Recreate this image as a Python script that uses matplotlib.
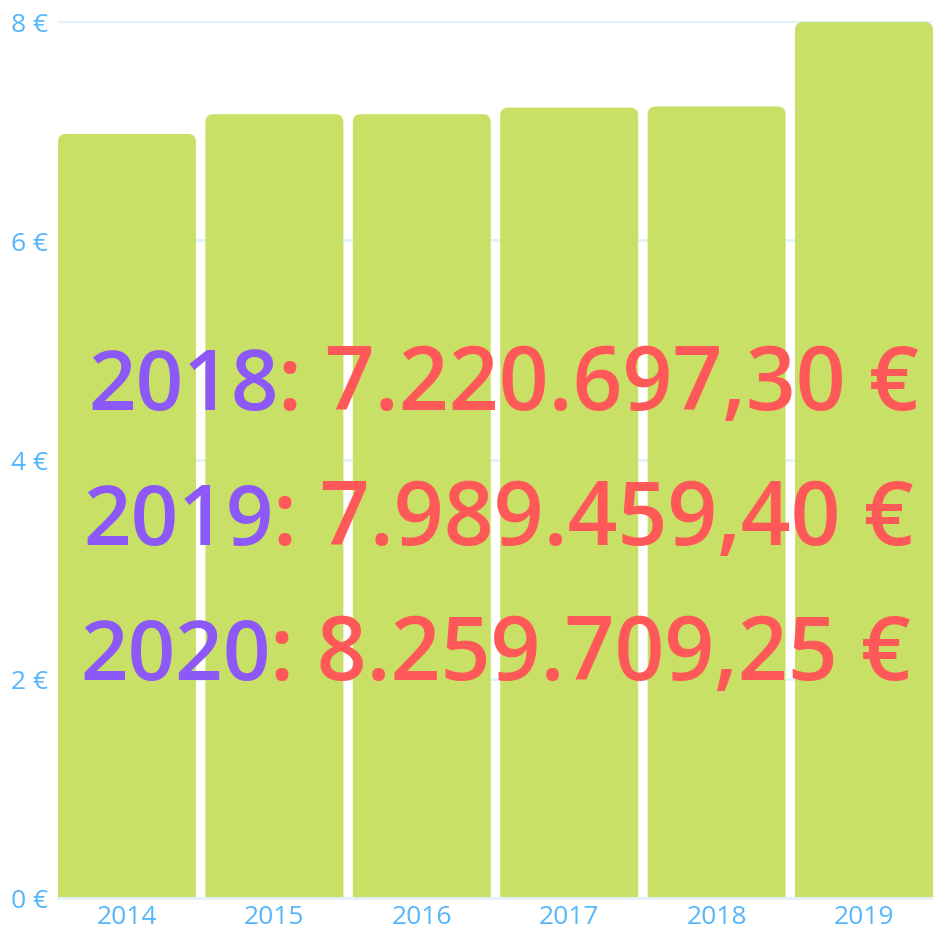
import matplotlib.pyplot as plt
from matplotlib.patches import FancyBboxPatch
from matplotlib.ticker import FuncFormatter

years = ['2014', '2015', '2016', '2017', '2018', '2019']
values = [6.97, 7.15, 7.15, 7.21, 7.22, 7.99]  # millions of euro

notes_year = ['2018', '2019', '2020']
notes_amount = [': 7.220.697,30 €', ': 7.989.459,40 €', ': 8.259.709,25 €']

BAR = '#c9e066'
TICK = '#55b6fb'
GRID = '#e2f1fc'
PURPLE = '#8c58f7'
RED = '#ff5858'

plt.rcParams['font.family'] = ['Open Sans', 'DejaVu Sans']

fig = plt.figure(figsize=(9.33, 9.28), dpi=100)
ax = fig.add_axes([58 / 933, 29 / 928, 875 / 933, 877 / 928])

ax.set_xlim(-0.468, len(years) - 1 + 0.468)
ax.set_ylim(0, 8)

# rounded top corners, bottom hidden below y=0
fig.canvas.draw()
bb = ax.get_window_extent()
x_per_px = (ax.get_xlim()[1] - ax.get_xlim()[0]) / bb.width
y_per_px = 8 / bb.height
r = 8 * x_per_px
aspect = y_per_px / x_per_px
width = 0.936
for i, v in enumerate(values):
    p = FancyBboxPatch((i - width / 2, -0.5), width, v + 0.5,
                       boxstyle=f'round,pad=0,rounding_size={r}',
                       mutation_aspect=aspect, fc=BAR, ec='none', zorder=2)
    ax.add_patch(p)

ax.set_yticks([0, 2, 4, 6, 8])
ax.yaxis.set_major_formatter(FuncFormatter(lambda v, _: f'{v:.0f} €'))
ax.set_xticks(range(len(years)))
ax.set_xticklabels(years)
ax.tick_params(axis='both', length=0, colors=TICK, labelsize=19)
ax.tick_params(axis='y', pad=7)
ax.tick_params(axis='x', pad=4)
ax.grid(axis='y', color=GRID, lw=2, zorder=0)
ax.set_axisbelow(True)
for s in ['top', 'right', 'left']:
    ax.spines[s].set_visible(False)
ax.spines['bottom'].set_color(GRID)
ax.spines['bottom'].set_linewidth(2)

# big overlay text
lefts = [88, 83, 80]
baselines = [410, 545, 680]
for yr, amt, x0, yb in zip(notes_year, notes_amount, lefts, baselines):
    t = fig.text(x0 / 933, 1 - yb / 928, yr, color=PURPLE, fontsize=60,
                 fontweight='semibold', va='baseline', ha='left', zorder=5)
    fig.canvas.draw()
    ext = t.get_window_extent()
    fig.text(ext.x1 / 933, 1 - yb / 928, amt, color=RED, fontsize=63,
             fontweight='semibold', va='baseline', ha='left', zorder=5)

fig.savefig('out.png', dpi=100)
